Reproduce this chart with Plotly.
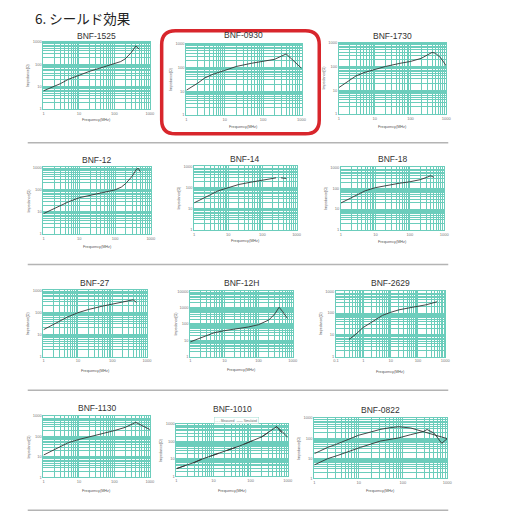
import plotly.graph_objects as go

W, H = 527, 519
# the page body adds an 8px margin around the plot div
OFF = 8

PAGE_TITLE = "6. シールド効果"

# impedance curves (MHz, ohm)
F_1525 = [1, 2, 3, 5, 10, 20, 50, 100, 150, 200, 300, 400, 450, 500]
Z_1525 = [6.5, 10, 13.5, 21, 33, 48, 75, 105, 130, 170, 330, 640, 560, 470]

F_0930 = [1, 2, 3, 5, 10, 20, 50, 100, 200, 300, 400, 1000]
Z_0930 = [11, 22, 36, 52, 75, 110, 150, 180, 220, 300, 370, 92]

F_1730 = [1, 2, 3, 5, 10, 20, 50, 100, 200, 300, 400, 500, 700, 1000]
Z_1730 = [13, 27, 40, 55, 77, 100, 135, 162, 220, 310, 390, 360, 230, 105]

F_12 = [1, 2, 3, 5, 10, 20, 50, 100, 150, 200, 300, 400, 450, 500]
Z_12 = [8.2, 14, 19.5, 28, 43, 56, 78, 97, 130, 190, 400, 850, 900, 650]

F_14 = [1, 2, 3, 5, 10, 20, 50, 100, 200, 250, 300, 350, 500]
Z_14 = [19, 32, 46, 70, 100, 140, 185, 220, 270, 290, None, 290, 270]

F_18 = [1, 2, 3, 5, 10, 20, 50, 100, 200, 300, 400, 500]
Z_18 = [19.6, 34, 49, 75, 107, 135, 175, 205, 260, 330, 400, 335]

F_27 = [1, 2, 3, 5, 10, 20, 50, 100, 200, 300, 400, 500]
Z_27 = [16.5, 30, 40, 62, 97, 135, 190, 238, 295, 330, 370, 280]

F_12H = [1, 2, 3, 5, 10, 20, 50, 100, 200, 300, 400, 500, 700]
Z_12H = [8, 14, 20, 29, 39, 48, 65, 90, 175, 410, 1050, 600, 220]

F_2629 = [0.3, 0.5, 1, 2, 3, 5, 10, 20, 50, 100, 200, 500]
Z_2629 = [6.2, 10, 22, 38, 52, 78, 108, 140, 175, 200, 240, 330]

F_1130 = [1, 2, 3, 5, 10, 20, 50, 100, 200, 300, 400, 1000]
Z_1130 = [12.4, 22, 33, 50, 72, 95, 145, 195, 280, 380, 490, 220]

F_1010 = [1, 2, 3, 5, 10, 20, 50, 100, 200, 300, 500, 700, 1000]
Z_1010_A = [2.8, 4.5, 6.3, 10, 16.5, 27, 55, 100, 185, 330, 700, 300, 130]
Z_1010_B = [2.8, 4.5, 6.3, 10, 16.5, 27, 55, 100, 185, 330, 700, 380, 170]
LEGEND_1010 = ["Measured", "Simulated"]

F_0822_A = [1, 2, 3, 5, 10, 20, 30, 50, 80, 150, 290, 500, 1000]
Z_0822_A = [17, 35, 48, 75, 140, 210, 270, 330, 370, 320, 215, 150, 95]
F_0822_B = [1, 2, 3.4, 5, 11, 31, 80, 150, 290, 350, 500, 750, 1000]
Z_0822_B = [4.7, 9.6, 14, 19, 35, 72, 103, 150, 215, 270, 180, 56, 95]

TEAL = "#6ccdbc"
INK = "#333333"

# name, curves, x decades, y decades, plot box in px (x0, x1, top, bottom), title y, x-title y
CHARTS = [
    ("BNF-1525", [(F_1525, Z_1525, "solid")], (0, 3), (0, 3), (41, 149, 39, 107), 33, 118),
    ("BNF-0930", [(F_0930, Z_0930, "solid")], (0, 3), (0, 3), (186, 303, 41, 113), 32, 125),
    ("BNF-1730", [(F_1730, Z_1730, "solid")], (0, 3), (0, 3), (341, 450, 40, 112), 33, 125),
    ("BNF-12", [(F_12, Z_12, "solid")], (0, 3), (0, 3), (41, 150, 166, 233), 158, 246),
    ("BNF-14", [(F_14, Z_14, "solid")], (0, 3), (0, 3), (194, 298, 165, 229), 157, 240),
    ("BNF-18", [(F_18, Z_18, "solid")], (0, 3), (0, 3), (343, 448, 166, 229), 157, 241),
    ("BNF-27", [(F_27, Z_27, "solid")], (0, 3), (0, 3), (41, 146, 290, 357), 283, 371),
    ("BNF-12H", [(F_12H, Z_12H, "solid")], (0, 3), (0, 4), (190, 294, 291, 357), 283, 370),
    ("BNF-2629", [(F_2629, Z_2629, "solid")], (-1, 3), (0, 3), (338, 449, 291, 357), 283, 373),
    ("BNF-1130", [(F_1130, Z_1130, "solid")], (0, 3), (0, 3), (41, 149, 417, 479), 409, 493),
    ("BNF-1010", [(F_1010, Z_1010_A, "dash"), (F_1010, Z_1010_B, "solid")], (0, 3), (0, 3),
     (176, 289, 425, 478), 410, 493),
    ("BNF-0822", [(F_0822_A, Z_0822_A, "solid"), (F_0822_B, Z_0822_B, "solid")], (0, 3), (0, 3),
     (316, 451, 419, 480), 411, 493),
]

SEPARATORS = [141, 264, 391, 512]


def px(x):
    return (x - OFF) / W


def py(y):
    return 1 - (y - OFF) / H


def decades(lo, hi):
    return [10.0 ** k for k in range(lo, hi + 1)]


def minors(lo, hi):
    return [m * 10.0 ** k for k in range(lo, hi) for m in range(2, 10)]


def log_axis(lo, hi, domain, anchor):
    vals = decades(lo, hi)
    return dict(
        type="log", range=[lo, hi], domain=domain, anchor=anchor,
        tickmode="array", tickvals=vals, ticktext=[f"{v:g}" for v in vals],
        tickfont=dict(size=4, color="#777777"), ticks="",
        showgrid=True, gridcolor=TEAL, gridwidth=1,
        minor=dict(tickmode="array", tickvals=minors(lo, hi), showgrid=True,
                   gridcolor=TEAL, gridwidth=0.6, ticks=""),
        showline=True, linecolor=TEAL, linewidth=1, mirror=True, zeroline=False,
    )


def rounded_rect(x0, y0, x1, y1, r):
    pts = [
        ("M", [(x0 + r, y0)]), ("L", [(x1 - r, y0)]), ("Q", [(x1, y0), (x1, y0 + r)]),
        ("L", [(x1, y1 - r)]), ("Q", [(x1, y1), (x1 - r, y1)]), ("L", [(x0 + r, y1)]),
        ("Q", [(x0, y1), (x0, y1 - r)]), ("L", [(x0, y0 + r)]), ("Q", [(x0, y0), (x0 + r, y0)]),
    ]
    path = ""
    for cmd, coords in pts:
        path += cmd + " ".join(f"{px(a):.5f},{py(b):.5f}" for a, b in coords) + " "
    return path + "Z"


def label(text, x, y, size, color, **kw):
    return dict(text=text, x=x, y=y, xref="paper", yref="paper", showarrow=False,
                xanchor=kw.pop("xanchor", "center"), yanchor="middle",
                font=dict(size=size, color=color, family=kw.pop("family", None)), **kw)


fig = go.Figure()
layout = dict(
    width=W, height=H, margin=dict(l=0, r=0, t=0, b=0),
    paper_bgcolor="white", plot_bgcolor="white", showlegend=False,
    font=dict(family="Liberation Sans, Arial, sans-serif", color=INK),
)
annotations = [label(PAGE_TITLE, px(30), py(15), 13.5, "#222222",
                     xanchor="left", family="Noto Sans CJK JP")]

for i, (name, curves, xr, yr, box, ty, xty) in enumerate(CHARTS, start=1):
    x0, x1, top, bot = box
    sfx = "" if i == 1 else str(i)
    layout[f"xaxis{sfx}"] = log_axis(xr[0], xr[1], [px(x0), px(x1)], f"y{sfx}")
    layout[f"yaxis{sfx}"] = log_axis(yr[0], yr[1], [py(bot), py(top)], f"x{sfx}")
    for f, z, dash in curves:
        fig.add_trace(go.Scatter(x=f, y=z, mode="lines", xaxis=f"x{sfx}", yaxis=f"y{sfx}",
                                 line=dict(color=INK, width=0.9, dash=dash),
                                 connectgaps=False, hoverinfo="x+y"))
    cx = px((x0 + x1) / 2)
    annotations.append(label(name, cx, py(ty), 8.5, INK))
    annotations.append(label("Frequency(MHz)", cx, py(xty), 3.8, "#555555"))
    annotations.append(label("Impedance(Ω)", px(x0 - 15), py((top + bot) / 2), 3.6, "#555555",
                             textangle=-90))

# small legend box of BNF-1010
annotations.append(label(f"- - - {LEGEND_1010[0]}   —— {LEGEND_1010[1]}", px(237), py(421),
                         3, "#666666", bgcolor="white", bordercolor="#9fdcd1",
                         borderwidth=0.5, borderpad=1))

shapes = [dict(type="line", xref="paper", yref="paper", x0=px(25), x1=px(452),
               y0=py(s), y1=py(s), line=dict(color="#b4b4b4", width=1.5)) for s in SEPARATORS]
shapes.append(dict(type="path", xref="paper", yref="paper",
                   path=rounded_rect(161, 28, 321, 132, 14),
                   line=dict(color="#d8262c", width=3.5)))

layout["annotations"] = annotations
layout["shapes"] = shapes
fig.update_layout(**layout)

fig.write_html("out.html")
